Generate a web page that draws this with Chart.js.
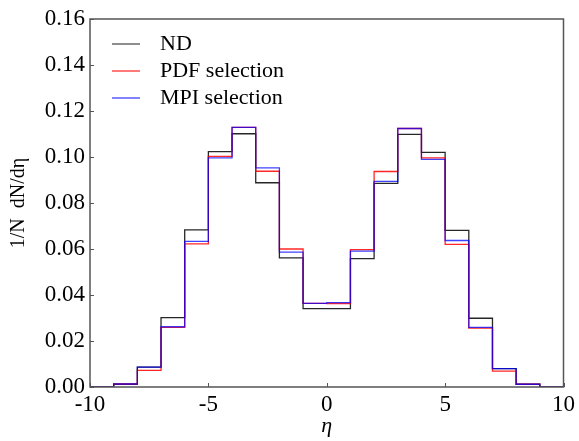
<!DOCTYPE html>
<html>
<head>
<meta charset="utf-8">
<script src="https://cdn.jsdelivr.net/npm/chart.js@4"></script>
<style>
  html, body { margin: 0; padding: 0; background: #fff; }
  #myChart { display: block; }
</style>
</head>
<body>
<canvas id="myChart" width="579" height="441"></canvas>
<script>
// bin edges in eta, width 1 from -10 to 10
const edges = [-10, -9, -8, -7, -6, -5, -4, -3, -2, -1, 0, 1, 2, 3, 4, 5, 6, 7, 8, 9, 10];
const ndValues  = [0, 0.0012, 0.0086, 0.0302, 0.0683, 0.1023, 0.1101, 0.0888, 0.0561, 0.0341,
                   0.0341, 0.0558, 0.0885, 0.1098, 0.1020, 0.0681, 0.0299, 0.0080, 0.0012, 0];
const pdfValues = [0, 0.0013, 0.0072, 0.0259, 0.0622, 0.1003, 0.1129, 0.0938, 0.0600, 0.0364,
                   0.0363, 0.0597, 0.0937, 0.1124, 0.0996, 0.0620, 0.0256, 0.0069, 0.0012, 0];
const mpiValues = [0, 0.0013, 0.0086, 0.0262, 0.0633, 0.0996, 0.1129, 0.0953, 0.0586, 0.0364,
                   0.0367, 0.0591, 0.0894, 0.1124, 0.0990, 0.0637, 0.0259, 0.0080, 0.0012, 0];
const xTicks = [-10, -5, 0, 5, 10];
const yTicks = [0, 0.02, 0.04, 0.06, 0.08, 0.10, 0.12, 0.14, 0.16];

const serif = '"Liberation Serif", "DejaVu Serif", serif';

// histogram as step line: one point per left edge plus the last right edge
function steps(values) {
  const pts = values.map((v, i) => ({x: edges[i], y: v}));
  pts.push({x: edges[edges.length - 1], y: values[values.length - 1]});
  return pts;
}

// legend sample: short line with some blank space before it
function legendLine(color) {
  const c = document.createElement('canvas');
  c.width = 54;
  c.height = 4;
  const g = c.getContext('2d');
  g.strokeStyle = color;
  g.lineWidth = 1.2;
  g.beginPath();
  g.moveTo(17, 2);
  g.lineTo(45, 2);
  g.stroke();
  return c;
}

const colors = ['rgba(0,0,0,0.85)', 'rgba(255,0,0,0.85)', 'rgba(0,0,255,0.75)'];
const samples = ['#444444', '#ff2020', '#3030ff'].map(legendLine);

// box around the plot and inward ticks on left and bottom
const frame = {
  id: 'frame',
  afterDraw(chart) {
    const {ctx, chartArea: a, scales} = chart;
    ctx.save();
    ctx.strokeStyle = '#555';
    ctx.lineWidth = 1.5;
    ctx.strokeRect(a.left, a.top, a.right - a.left, a.bottom - a.top);
    ctx.lineWidth = 1;
    ctx.beginPath();
    xTicks.forEach(t => {
      const px = Math.round(scales.x.getPixelForValue(t)) + 0.5;
      ctx.moveTo(px, a.bottom);
      ctx.lineTo(px, a.bottom - 4);
    });
    yTicks.forEach(t => {
      const py = Math.round(scales.y.getPixelForValue(t)) + 0.5;
      ctx.moveTo(a.left, py);
      ctx.lineTo(a.left + 4, py);
    });
    ctx.stroke();
    ctx.restore();
  }
};

new Chart(document.getElementById('myChart'), {
  type: 'line',
  data: {
    datasets: [
      {label: 'ND', data: steps(ndValues), borderColor: colors[0], order: 3},
      {label: 'PDF selection', data: steps(pdfValues), borderColor: colors[1], order: 2},
      {label: 'MPI selection', data: steps(mpiValues), borderColor: colors[2], order: 1}
    ]
  },
  options: {
    responsive: false,
    animation: false,
    devicePixelRatio: 1,
    layout: {padding: {left: 0, right: 14, top: 19, bottom: 0}},
    elements: {
      line: {stepped: 'before', borderWidth: 1.3, fill: false, tension: 0},
      point: {radius: 0, hoverRadius: 0}
    },
    plugins: {
      tooltip: {enabled: false},
      legend: {
        position: 'chartArea',
        align: 'start',
        title: {display: true, text: ' ', font: {size: 1, lineHeight: 1}, padding: {top: 27, bottom: 0}},
        labels: {
          usePointStyle: true,
          pointStyleWidth: 54,
          padding: 5,
          color: '#000',
          font: {family: serif, size: 22},
          sort: (a, b) => a.datasetIndex - b.datasetIndex,
          generateLabels(chart) {
            const items = Chart.defaults.plugins.legend.labels.generateLabels(chart);
            items.forEach(it => { it.pointStyle = samples[it.datasetIndex]; });
            return items;
          }
        }
      }
    },
    scales: {
      x: {
        type: 'linear',
        min: -10,
        max: 10,
        grid: {display: false, drawTicks: false},
        border: {display: false},
        afterBuildTicks(scale) { scale.ticks = xTicks.map(v => ({value: v})); },
        afterFit(scale) { scale.height = 54; },
        ticks: {
          color: '#000',
          padding: 4,
          font: {family: serif, size: 23},
          maxRotation: 0,
          callback: v => String(v)
        },
        title: {
          display: true,
          text: 'η',
          color: '#000',
          font: {family: serif, size: 22, style: 'italic', lineHeight: 1.2},
          padding: {top: 0, bottom: 2}
        }
      },
      y: {
        min: 0,
        max: 0.16,
        grid: {display: false, drawTicks: false},
        border: {display: false},
        afterBuildTicks(scale) { scale.ticks = yTicks.map(v => ({value: v})); },
        afterFit(scale) { scale.width = 90; },
        ticks: {
          color: '#000',
          padding: 5,
          font: {family: serif, size: 23},
          callback: v => v.toFixed(2)
        },
        title: {
          display: true,
          text: '1/N  dN/dη',
          color: '#000',
          font: {family: serif, size: 20, lineHeight: 1.2},
          padding: {top: 7, bottom: 0}
        }
      }
    }
  },
  plugins: [frame]
});
</script>
</body>
</html>
